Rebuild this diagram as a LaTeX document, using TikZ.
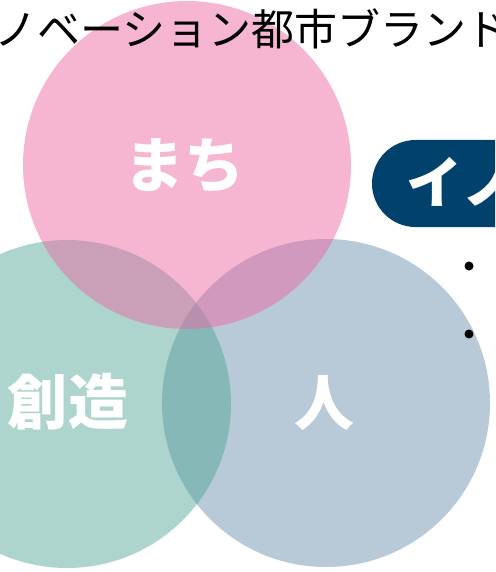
\documentclass[tikz,border=0pt]{standalone}
\usepackage{fontspec}
\setmainfont{Noto Sans CJK JP}
\definecolor{pinkC}{RGB}{236,100,160}
\definecolor{tealC}{RGB}{80,165,150}
\definecolor{blueC}{RGB}{105,140,170}
\definecolor{navyC}{RGB}{0,66,107}
\begin{document}
\begin{tikzpicture}[x=1pt,y=-1pt,
  disc/.style={opacity=0.47},
  lbl/.style={text=white,inner sep=0pt,font=\fontsize{60}{60}\selectfont\bfseries},
  title/.style={text=black,inner sep=0pt,anchor=west,font=\fontsize{43}{43}\selectfont},
  pill/.style={fill=navyC,rounded corners=43.5pt},
  dot/.style={fill=black}]
\useasboundingbox (0,0) rectangle (495,572);
\clip (0,0) rectangle (495,572);
% circles
\fill[blueC,disc] (326,403) circle (164pt);
\fill[tealC,disc] (67,404) circle (164pt);
\fill[pinkC,disc] (187,165) circle (164pt);
% labels in circles
\node[lbl] (machi) at (184,166) {まち};
\node[lbl] (sozo) at (68,402) {創造};
\node[lbl] (hito) at (324,403) {人};
% title
\node[title] (ttl) at (-6,29) {ノベーション都市ブランド};
% dark pill
\fill[pill] (372,140) rectangle (600,227);
\node[text=white,inner sep=0pt,anchor=west,font=\fontsize{56}{56}\selectfont\bfseries] (ino) at (406,182) {イノ};
% bullets
\fill[dot] (469,266) circle (4.5pt);
\fill[dot] (469,334) circle (4.5pt);
\end{tikzpicture}
\end{document}
